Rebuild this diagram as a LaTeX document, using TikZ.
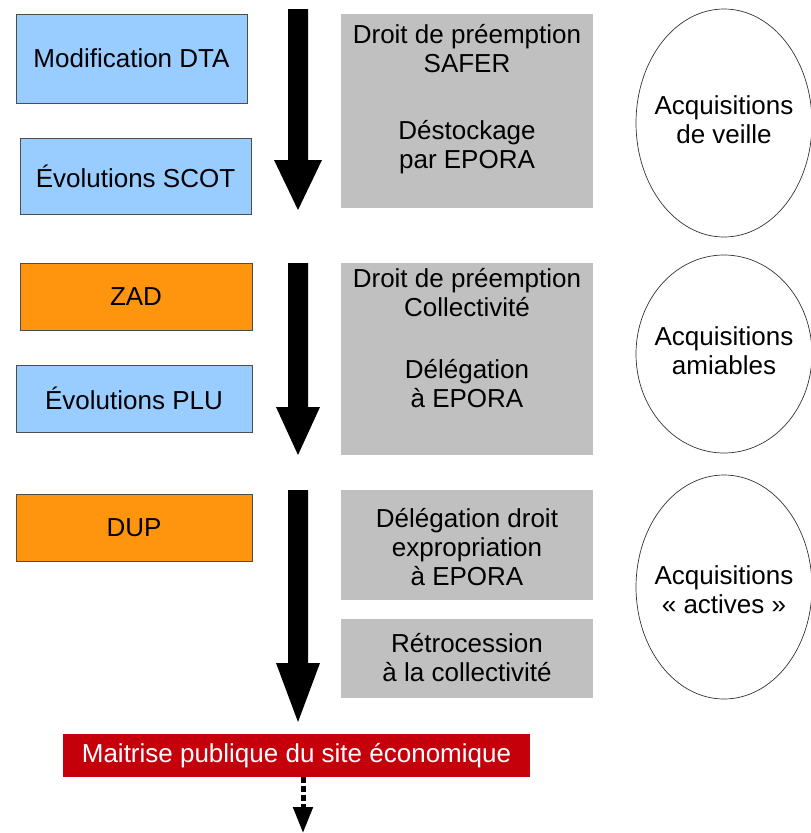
\documentclass[tikz,border=0pt]{standalone}
\usepackage{fontspec}
\setmainfont{Liberation Sans}
\usetikzlibrary{shapes.geometric,arrows.meta}
\definecolor{boxblue}{HTML}{99CCFF}
\definecolor{boxorange}{HTML}{FF950E}
\definecolor{boxgray}{HTML}{C0C0C0}
\definecolor{boxred}{HTML}{C5000B}
\definecolor{edgegray}{HTML}{4D4D4D}
\newcommand{\thickdown}[5]{%
  \fill[black] ({#1-10},#2) -- ({#1+10},#2) -- ({#1+10},#3) -- ({#1+#5},#3)
    -- (#1,#4) -- ({#1-#5},#3) -- ({#1-10},#3) -- cycle;}
\begin{document}
\begin{tikzpicture}[x=1pt,y=-1pt,
  txt/.style={font=\fontsize{26}{29}\selectfont, text=black, inner sep=0pt, align=center},
  leftbox/.style={txt, draw=edgegray, line width=0.8pt},
  bluebox/.style={leftbox, fill=boxblue},
  orangebox/.style={leftbox, fill=boxorange},
  graybox/.style={fill=boxgray, inner sep=0pt},
  redbox/.style={txt, fill=boxred, text=white},
  oval/.style={ellipse, draw=black!80, line width=0.7pt, fill=white, inner sep=0pt, minimum width=176pt}
]
\useasboundingbox[fill=white] (0,0) rectangle (811,833);

% left boxes
\node[bluebox, minimum width=231pt, minimum height=89pt] (dta) at (131.5,58.5) {Modification DTA};
\node[bluebox, minimum width=231pt, minimum height=76pt] (scot) at (135.5,176) {Évolutions SCOT};
\node[orangebox, minimum width=232pt, minimum height=67pt] (zad) at (136,296.5) {ZAD};
\node[bluebox, minimum width=236pt, minimum height=67pt] (plu) at (134,398.5) {Évolutions PLU};
\node[orangebox, minimum width=236pt, minimum height=67pt] (dup) at (134,527.5) {DUP};

% block arrows
\thickdown{298}{9}{160}{210}{24}
\thickdown{298}{263}{407}{455}{22}
\thickdown{298}{490}{663}{722}{22}

% gray boxes
\node[graybox, minimum width=252pt, minimum height=194pt] (g1) at (467,111) {};
\node[txt] (g1t) at (467,99) {Droit de préemption\\SAFER\\[38pt]Déstockage\\par EPORA};
\node[graybox, minimum width=252pt, minimum height=192pt] (g2) at (467,359) {};
\node[txt] (g2t) at (467,338) {Droit de préemption\\Collectivité\\[33pt]Délégation\\à EPORA};
\node[graybox, minimum width=252pt, minimum height=110pt] (g3) at (467,545) {};
\node[txt] (g3t) at (467,547) {Délégation droit\\expropriation\\à EPORA};
\node[graybox, minimum width=252pt, minimum height=79pt] (g4) at (467,658.5) {};
\node[txt] (g4t) at (467,658) {Rétrocession\\à la collectivité};

% ellipses
\node[oval, minimum height=228pt] (e1) at (724,123) {};
\node[txt] (e1t) at (724,120) {Acquisitions\\de veille};
\node[oval, minimum height=198pt] (e2) at (724,354) {};
\node[txt] (e2t) at (724,351) {Acquisitions\\amiables};
\node[oval, minimum height=224pt] (e3) at (724,587) {};
\node[txt] (e3t) at (724,590) {Acquisitions\\« actives »};

% result
\node[redbox, minimum width=467pt, minimum height=43pt] (red) at (296.5,755.5) {Maitrise publique du site économique};
\coordinate (dotend) at (303,833);
\draw[line width=5pt, dash pattern=on 6pt off 3pt, -{Triangle[width=19pt,length=26pt]}] (red.south -| dotend) -- (dotend);
\end{tikzpicture}
\end{document}
